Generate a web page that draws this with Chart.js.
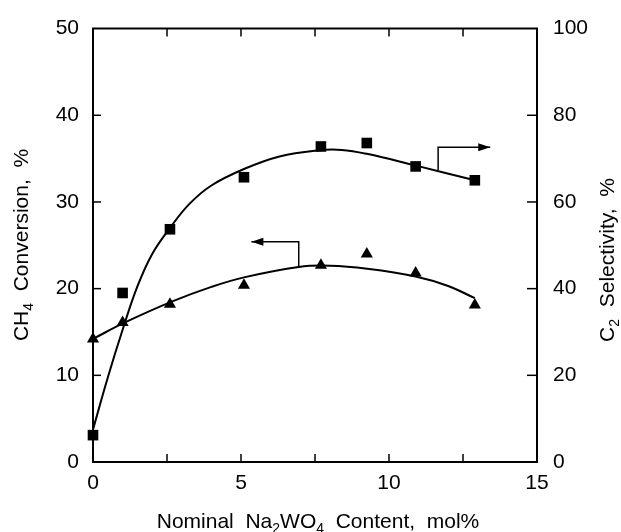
<!DOCTYPE html>
<html>
<head>
<meta charset="utf-8">
<script src="https://cdn.jsdelivr.net/npm/chart.js@4.4.0/dist/chart.umd.min.js"></script>
<style>
  body { margin: 0; background: #fff; }
  #wrap { width: 621px; height: 532px; }
</style>
</head>
<body>
<div id="wrap"><canvas id="myChart"></canvas></div>
<script>
// measured points (Na2WO4 content, mol%)
const contentX = [0, 1.0, 2.6, 5.1, 7.7, 9.25, 10.9, 12.9];
const conversion = [14.2, 16.1, 18.2, 20.4, 22.7, 24.0, 21.8, 18.1];   // CH4 conversion, left axis
const selectivity = [6.2, 39, 53.7, 65.7, 72.8, 73.6, 68.2, 65];       // C2 selectivity, right axis

// hand drawn trend curves
const convFitX = [0, 1.08, 2.66, 4, 5.1, 6.95, 8.0, 9.26, 10.9, 12, 12.9];
const convFitY = [14.2, 16.1, 18.5, 20.2, 21.3, 22.5, 22.65, 22.3, 21.4, 20.3, 18.9];
const selFitX = [0, 0.5, 1.0, 1.5, 2.0, 2.6, 3.25, 4, 5.1, 6.3, 7.6, 8.4, 9.25, 10.85, 12.9];
const selFitY = [7.5, 19.5, 30.5, 40.5, 48, 54, 59.5, 63.8, 67.6, 70.5, 71.9, 72, 71.1, 68.5, 65];

// the two axis pointer arrows
const convArrowX = [6.95, 6.95, 5.35];
const convArrowY = [22.5, 25.4, 25.4];
const selArrowX = [11.66, 11.66, 13.42];
const selArrowY = [67.4, 72.6, 72.6];

// tick marks
const xTickMarks = [2.5, 5, 7.5, 10, 12.5];
const yTickMarks = [10, 20, 30, 40];
const y1TickMarks = [20, 40, 60, 80];

const FONT = '"Liberation Sans", Arial, Helvetica, sans-serif';

function pts(xs, ys) {
    return xs.map((x, i) => ({ x: x, y: ys[i] }));
}

function drawRich(ctx, parts, x, y, rot) {
    ctx.save();
    ctx.translate(x, y);
    ctx.rotate(rot);
    ctx.textAlign = 'left';
    ctx.textBaseline = 'alphabetic';
    ctx.fillStyle = '#000';
    let total = 0;
    parts.forEach(p => {
        ctx.font = (p.sub ? '14px ' : '21px ') + FONT;
        p.w = ctx.measureText(p.t).width;
        total += p.w;
    });
    let cx = -total / 2;
    parts.forEach(p => {
        ctx.font = (p.sub ? '14px ' : '21px ') + FONT;
        ctx.fillText(p.t, cx, p.sub ? 5 : 0);
        cx += p.w;
    });
    ctx.restore();
}

const decor = {
    id: 'decor',
    afterDraw(chart) {
        const ctx = chart.ctx;
        const a = chart.chartArea;
        const sx = chart.scales.x, sy = chart.scales.y, sy1 = chart.scales.y1;
        function line(x1, y1, x2, y2) {
            ctx.beginPath(); ctx.moveTo(x1, y1); ctx.lineTo(x2, y2); ctx.stroke();
        }
        ctx.save();
        ctx.strokeStyle = '#000';
        ctx.fillStyle = '#000';
        ctx.lineWidth = 2;
        line(a.left - 1, a.top, a.right + 1, a.top);

        ctx.lineWidth = 1.5;
        xTickMarks.forEach(v => {
            const px = sx.getPixelForValue(v);
            line(px, a.bottom, px, a.bottom - 8);
            line(px, a.top, px, a.top + 8);
        });
        yTickMarks.forEach(v => {
            const py = sy.getPixelForValue(v);
            line(a.left, py, a.left + 8, py);
        });
        y1TickMarks.forEach(v => {
            const py = sy1.getPixelForValue(v);
            line(a.right, py, a.right - 10, py);
        });

        // arrow heads
        function head(xs, ys, scaleY) {
            const n = xs.length;
            const x1 = sx.getPixelForValue(xs[n - 2]), y1 = scaleY.getPixelForValue(ys[n - 2]);
            const x2 = sx.getPixelForValue(xs[n - 1]), y2 = scaleY.getPixelForValue(ys[n - 1]);
            const ang = Math.atan2(y2 - y1, x2 - x1);
            ctx.save();
            ctx.translate(x2, y2);
            ctx.rotate(ang);
            ctx.beginPath();
            ctx.moveTo(0, 0);
            ctx.lineTo(-12, -4);
            ctx.lineTo(-12, 4);
            ctx.closePath();
            ctx.fill();
            ctx.restore();
        }
        head(convArrowX, convArrowY, sy);
        head(selArrowX, selArrowY, sy1);

        // axis titles
        drawRich(ctx, [{ t: 'Nominal  Na' }, { t: '2', sub: true }, { t: 'WO' }, { t: '4', sub: true }, { t: '  Content,  mol%' }],
            318, 528, 0);
        drawRich(ctx, [{ t: 'CH' }, { t: '4', sub: true }, { t: '  Conversion,  %' }], 28, 245, -Math.PI / 2);
        drawRich(ctx, [{ t: 'C' }, { t: '2', sub: true }, { t: '  Selectivity,  %' }], 614, 260, -Math.PI / 2);
        ctx.restore();
    }
};

const tickFont = { family: FONT, size: 21 };

new Chart(document.getElementById('myChart'), {
    type: 'scatter',
    data: {
        datasets: [
            {
                label: 'CH4 conversion fit',
                data: pts(convFitX, convFitY),
                yAxisID: 'y',
                showLine: true,
                borderColor: '#000',
                borderWidth: 2,
                pointRadius: 0,
                tension: 0.4,
                clip: false
            },
            {
                label: 'C2 selectivity fit',
                data: pts(selFitX, selFitY),
                yAxisID: 'y1',
                showLine: true,
                borderColor: '#000',
                borderWidth: 2,
                pointRadius: 0,
                tension: 0.4,
                clip: false
            },
            {
                label: 'conversion arrow',
                data: pts(convArrowX, convArrowY),
                yAxisID: 'y',
                showLine: true,
                borderColor: '#000',
                borderWidth: 1.5,
                pointRadius: 0,
                tension: 0
            },
            {
                label: 'selectivity arrow',
                data: pts(selArrowX, selArrowY),
                yAxisID: 'y1',
                showLine: true,
                borderColor: '#000',
                borderWidth: 1.5,
                pointRadius: 0,
                tension: 0
            },
            {
                label: 'CH4 Conversion',
                data: pts(contentX, conversion),
                yAxisID: 'y',
                pointStyle: 'triangle',
                pointRadius: 7,
                backgroundColor: '#000',
                borderColor: '#000',
                borderWidth: 0,
                clip: false
            },
            {
                label: 'C2 Selectivity',
                data: pts(contentX, selectivity),
                yAxisID: 'y1',
                pointStyle: 'rect',
                pointRadius: 7.5,
                backgroundColor: '#000',
                borderColor: '#000',
                borderWidth: 0,
                clip: false
            }
        ]
    },
    options: {
        responsive: true,
        maintainAspectRatio: false,
        animation: false,
        devicePixelRatio: 1,
        layout: { padding: { top: 23, left: 0, right: 0, bottom: 0 } },
        plugins: {
            legend: { display: false },
            tooltip: { enabled: false }
        },
        scales: {
            x: {
                type: 'linear',
                min: 0,
                max: 15,
                ticks: { stepSize: 5, padding: 9, color: '#000', font: tickFont, maxRotation: 0 },
                grid: { display: false, drawTicks: false },
                border: { display: true, color: '#000', width: 2 },
                afterFit: s => { s.height = 70; }
            },
            y: {
                position: 'left',
                min: 0,
                max: 50,
                ticks: { stepSize: 10, padding: 14, color: '#000', font: tickFont },
                grid: { display: false, drawTicks: false },
                border: { display: true, color: '#000', width: 2 },
                afterFit: s => { s.width = 93; }
            },
            y1: {
                position: 'right',
                min: 0,
                max: 100,
                ticks: { stepSize: 20, padding: 16, color: '#000', font: tickFont },
                grid: { display: false, drawTicks: false },
                border: { display: true, color: '#000', width: 2 },
                afterFit: s => { s.width = 84; }
            }
        }
    },
    plugins: [decor]
});
</script>
</body>
</html>
